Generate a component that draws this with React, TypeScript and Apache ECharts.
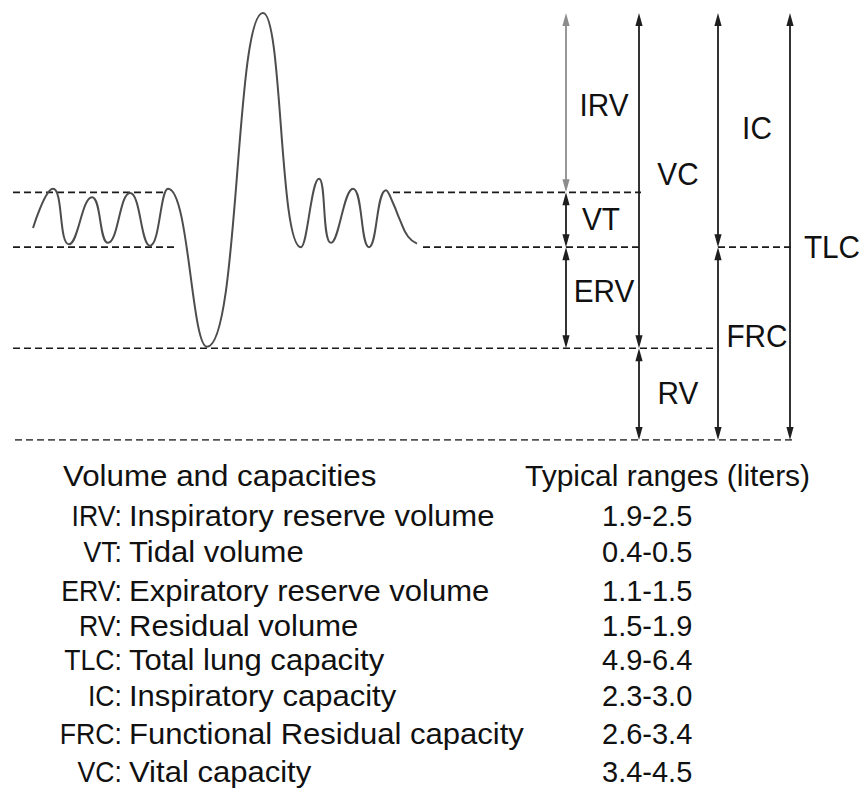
import React, { useEffect, useRef } from "react";
import * as echarts from "echarts";

// ---- data (volumes in liters-like units, time in arbitrary units) ----
const LEVEL_ZERO = 0;
const LEVEL_RV = 1.29;
const LEVEL_FRC = 2.71;
const LEVEL_TIDAL_TOP = 3.48;
const LEVEL_TLC = 6.0;

const breathTime = [33, 53, 69, 92, 108, 130, 150, 168, 207, 263, 301, 319, 331, 353, 369, 386, 393, 400, 408, 417];
const breathVolume = [2.98, 3.53, 2.75, 3.41, 2.77, 3.47, 2.73, 3.53, 1.31, 6.0, 2.71, 3.67, 2.77, 3.53, 2.71, 3.51, 3.33, 3.09, 2.86, 2.76];

const guideStart = [13, 393, 13, 423, 718, 13, 15];
const guideEnd = [166, 641, 175, 643, 793, 715, 793];
const guideLevel = [LEVEL_TIDAL_TOP, LEVEL_TIDAL_TOP, LEVEL_FRC, LEVEL_FRC, LEVEL_FRC, LEVEL_RV, LEVEL_ZERO];

const arrowNames = ["IRV", "VT", "ERV", "VC", "RV", "IC", "FRC", "TLC"];
const arrowTime = [566, 566, 566, 639, 639, 718, 718, 790];
const arrowFrom = [LEVEL_TIDAL_TOP, LEVEL_FRC, LEVEL_RV, LEVEL_RV, LEVEL_ZERO, LEVEL_FRC, LEVEL_ZERO, LEVEL_ZERO];
const arrowTo = [LEVEL_TLC, LEVEL_TIDAL_TOP, LEVEL_FRC, LEVEL_TLC, LEVEL_RV, LEVEL_TLC, LEVEL_FRC, LEVEL_TLC];

const tableHeaderLeft = "Volume and capacities";
const tableHeaderRight = "Typical ranges (liters)";
const tableAbbr = ["IRV:", "VT:", "ERV:", "RV:", "TLC:", "IC:", "FRC:", "VC:"];
const tableDesc = [
  "Inspiratory reserve volume",
  "Tidal volume",
  "Expiratory reserve volume",
  "Residual volume",
  "Total lung capacity",
  "Inspiratory capacity",
  "Functional Residual capacity",
  "Vital capacity",
];
const tableRange = ["1.9-2.5", "0.4-0.5", "1.1-1.5", "1.5-1.9", "4.9-6.4", "2.3-3.0", "2.6-3.4", "3.4-4.5"];

// ---- layout (pixels) ----
const labelPos: Record<string, [number, number]> = {
  IRV: [604, 105],
  VT: [601, 219],
  ERV: [604, 291],
  VC: [678, 174],
  RV: [678, 393],
  IC: [757, 128],
  FRC: [757, 336],
  TLC: [832, 247],
};
const arrowColor: Record<string, string> = {
  IRV: "#8c8c8c",
};
const rowMidY = [516, 552, 591, 626, 660, 696, 734, 772];
const headerMidY = 476;

const FONT = "'Liberation Sans', Arial, Helvetica, sans-serif";

export default function App() {
  const ref = useRef<HTMLDivElement>(null);

  useEffect(() => {
    if (!ref.current) return;
    const chart = echarts.init(ref.current, undefined, { renderer: "svg" });

    const guideSeries = guideStart.map((s, i) => ({
      type: "line",
      data: [
        [s, guideLevel[i]],
        [guideEnd[i], guideLevel[i]],
      ],
      symbol: "none",
      silent: true,
      lineStyle: { color: "#1a1a1a", width: 1.6, type: [7, 4] },
      z: 2,
    }));

    const textStyle = (text: string, size: number, align: string) => ({
      text,
      font: `${size}px ${FONT}`,
      fill: "#111",
      textAlign: align,
      textVerticalAlign: "middle",
    });

    const graphics: any[] = [];
    arrowNames.forEach((n) => {
      const p = labelPos[n];
      graphics.push({
        type: "text",
        x: p[0],
        y: p[1],
        scaleX: 0.93,
        style: textStyle(n, 32, "center"),
      });
    });
    graphics.push({
      type: "text",
      x: 63,
      y: headerMidY,
      scaleX: 1.08,
      style: textStyle(tableHeaderLeft, 29, "left"),
    });
    graphics.push({
      type: "text",
      x: 525,
      y: headerMidY,
      scaleX: 1.035,
      style: textStyle(tableHeaderRight, 29, "left"),
    });
    tableAbbr.forEach((a, i) => {
      graphics.push({
        type: "text",
        x: 122,
        y: rowMidY[i],
        scaleX: 0.92,
        style: textStyle(a, 29, "right"),
      });
      graphics.push({
        type: "text",
        x: 129,
        y: rowMidY[i],
        scaleX: 1.07,
        style: textStyle(tableDesc[i], 29, "left"),
      });
      graphics.push({
        type: "text",
        x: 602,
        y: rowMidY[i],
        style: textStyle(tableRange[i], 29, "left"),
      });
    });

    chart.setOption({
      animation: false,
      backgroundColor: "#ffffff",
      grid: { left: 0, top: 13, width: 861, height: 427, containLabel: false },
      xAxis: { type: "value", min: 0, max: 861, show: false },
      yAxis: { type: "value", min: 0, max: 6, show: false },
      series: [
        ...guideSeries,
        {
          type: "line",
          data: breathTime.map((t, i) => [t, breathVolume[i]]),
          smooth: 0.5,
          symbol: "none",
          silent: true,
          lineStyle: { color: "#4d4d4d", width: 2 },
          z: 3,
        },
        {
          type: "custom",
          clip: false,
          silent: true,
          z: 4,
          data: arrowTime.map((t, i) => [t, arrowFrom[i], arrowTo[i]]),
          renderItem: (params: any, api: any) => {
            const name = arrowNames[params.dataIndex];
            const color = arrowColor[name] || "#1e1e1e";
            const x = api.value(0);
            const lo = api.coord([x, api.value(1)]);
            const hi = api.coord([x, api.value(2)]);
            const hl = 13;
            const hw = 3.6;
            return {
              type: "group",
              children: [
                {
                  type: "line",
                  shape: { x1: lo[0], y1: lo[1] - hl + 2, x2: hi[0], y2: hi[1] + hl - 2 },
                  style: { stroke: color, lineWidth: 1.8 },
                },
                {
                  type: "polygon",
                  shape: { points: [[hi[0], hi[1]], [hi[0] - hw, hi[1] + hl], [hi[0] + hw, hi[1] + hl]] },
                  style: { fill: color },
                },
                {
                  type: "polygon",
                  shape: { points: [[lo[0], lo[1]], [lo[0] - hw, lo[1] - hl], [lo[0] + hw, lo[1] - hl]] },
                  style: { fill: color },
                },
              ],
            };
          },
        },
      ],
      graphic: { elements: graphics },
    });

    return () => chart.dispose();
  }, []);

  return (
    <div
      ref={ref}
      style={{ position: "fixed", left: 0, top: 0, width: 861, height: 789, background: "#fff" }}
    />
  );
}
